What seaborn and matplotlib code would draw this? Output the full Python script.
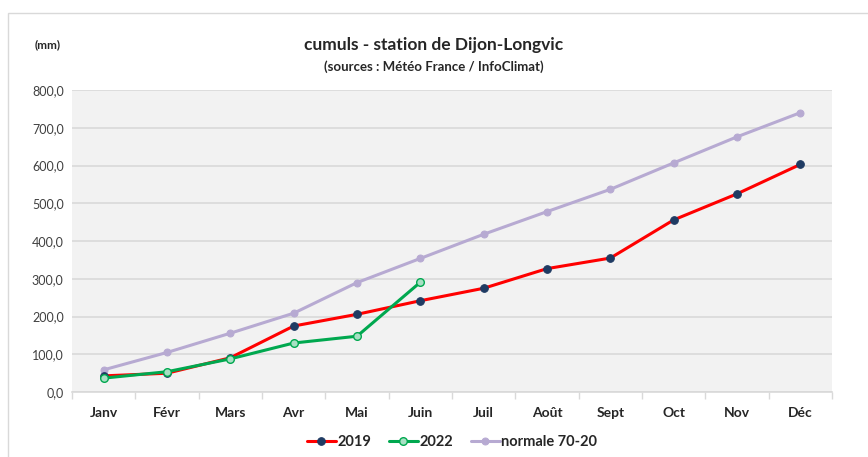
import numpy as np
import pandas as pd
import matplotlib
matplotlib.use("Agg")
import matplotlib.pyplot as plt
import seaborn as sns

months = ["Janv", "Févr", "Mars", "Avr", "Mai", "Juin", "Juil", "Août", "Sept", "Oct", "Nov", "Déc"]
cumul_2019 = [43, 50, 91, 175, 206, 242, 275, 327, 355, 456, 525, 603]
cumul_2022 = [37, 54, 88, 130, 148, 291]
normale_70_20 = [59, 105, 156, 209, 290, 354, 418, 478, 537, 607, 676, 740]
y_ticks = [0, 100, 200, 300, 400, 500, 600, 700, 800]

sns.set_theme(style="white")
plt.rcParams["font.family"] = ["Lato", "DejaVu Sans"]

fig = plt.figure(figsize=(8.68, 4.57), dpi=100)
ax = fig.add_axes([0.083, 0.142, 0.8755, 0.661])

# frame around the whole chart
fig.patches.append(plt.Rectangle((8 / 868, -0.01), 1.0, 1 - 13 / 457 + 0.01,
                                 transform=fig.transFigure, fill=False,
                                 edgecolor="#d9d9d9", linewidth=1.0))

pos = np.arange(len(months))
df19 = pd.DataFrame({"x": pos, "y": cumul_2019})
df22 = pd.DataFrame({"x": pos[:len(cumul_2022)], "y": cumul_2022})
dfn = pd.DataFrame({"x": pos, "y": normale_70_20})

ax.set_facecolor("#f2f2f2")
for t in y_ticks:
    ax.axhline(t, color="#d9d9d9", linewidth=1.2, zorder=0)

sns.lineplot(data=dfn, x="x", y="y", ax=ax, color="#b7aad2", linewidth=2.2,
             marker="o", markersize=5, markerfacecolor="#b7aad2",
             markeredgecolor="#b7aad2", label="normale 70-20", zorder=2)
sns.lineplot(data=df19, x="x", y="y", ax=ax, color="#ff0000", linewidth=2.2,
             marker="o", markersize=5.5, markerfacecolor="#1f3b63",
             markeredgecolor="#1f3b63", label="2019", zorder=3)
sns.lineplot(data=df22, x="x", y="y", ax=ax, color="#00a84f", linewidth=2.2,
             marker="o", markersize=5.5, markerfacecolor="#a8e0c4",
             markeredgecolor="#00a84f", markeredgewidth=1.0, label="2022", zorder=4)

ax.set_xlim(-0.5, len(months) - 0.5)
ax.set_ylim(0, 800)
ax.set_yticks(y_ticks)
ax.set_yticklabels([f"{t:.1f}".replace(".", ",") for t in y_ticks], fontsize=9, color="#404040")
ax.set_xticks(pos)
ax.set_xticklabels(months, fontsize=10, fontweight="bold", color="#262626")
ax.set_xticks(np.arange(-0.5, len(months)), minor=True)
ax.tick_params(axis="x", which="major", length=0, pad=11)
ax.tick_params(axis="x", which="minor", length=5, color="#d9d9d9", direction="out", bottom=True)
ax.tick_params(axis="y", length=0, pad=6)
ax.set_xlabel("")
ax.set_ylabel("")
for s in ["top", "right", "left"]:
    ax.spines[s].set_visible(False)
ax.spines["bottom"].set_color("#d9d9d9")
ax.spines["bottom"].set_linewidth(1.2)

handles, labels = ax.get_legend_handles_labels()
order = [labels.index("2019"), labels.index("2022"), labels.index("normale 70-20")]
ax.legend([handles[i] for i in order], [labels[i] for i in order],
          loc="center", bbox_to_anchor=(0.5, -0.165), ncol=3, frameon=False,
          prop={"size": 10.5, "weight": "bold"}, handlelength=2.0, columnspacing=1.2,
          handletextpad=0.1)
for text in ax.get_legend().get_texts():
    text.set_color("#262626")

fig.text(0.5, 1 - 45 / 457, "cumuls - station de Dijon-Longvic", ha="center", va="center",
         fontsize=12.5, fontweight="bold", color="#262626")
fig.text(0.5, 1 - 67 / 457, "(sources : Météo France / InfoClimat)", ha="center", va="center",
         fontsize=9.5, fontweight="bold", color="#262626")
fig.text(48 / 868, 1 - 45 / 457, "(mm)", ha="center", va="center",
         fontsize=8.5, fontweight="bold", color="#262626")

fig.savefig("out.png", dpi=100, facecolor="white")
